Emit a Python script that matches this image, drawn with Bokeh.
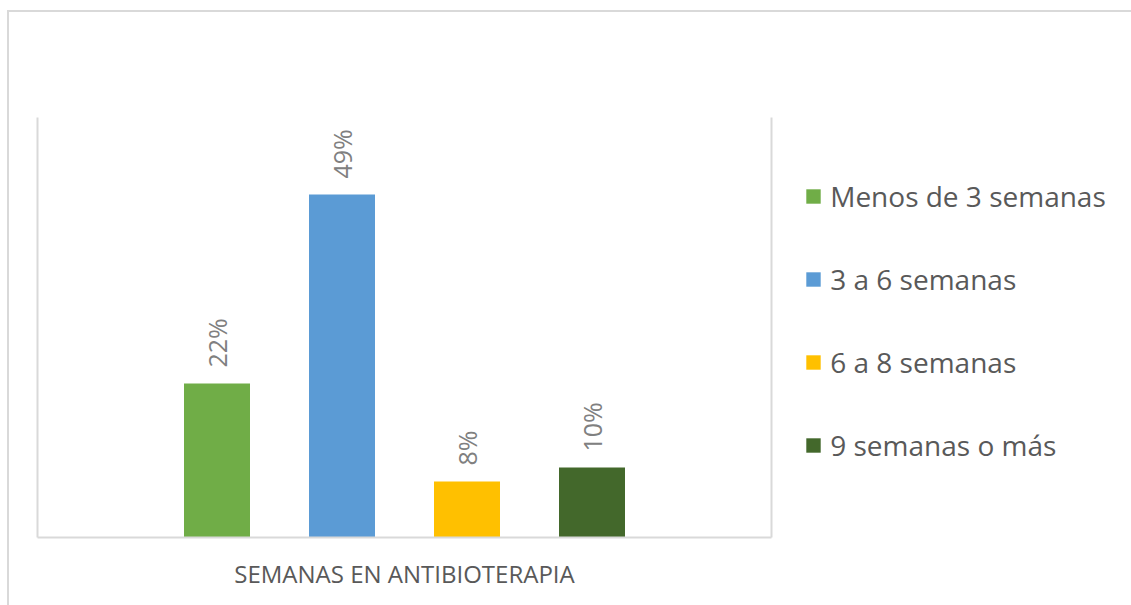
import math
from bokeh.plotting import figure
from bokeh.models import (ColumnDataSource, FactorRange, Range1d, LinearAxis,
                          Legend, LegendItem, FixedTicker)
from bokeh.core.properties import value
from bokeh.embed import file_html
from bokeh.resources import INLINE

# ---- data ----
series = ["Menos de 3 semanas", "3 a 6 semanas", "6 a 8 semanas", "9 semanas o más"]
values = [22, 49, 8, 10]
labels = ["22%", "49%", "8%", "10%"]
colors = ["#70AD47", "#5B9BD5", "#FFC000", "#43682B"]
axis_title = "SEMANAS EN ANTIBIOTERAPIA"

FONT = "Open Sans"
GRID = "#D9D9D9"

src = ColumnDataSource(dict(x=series, top=values, label=labels, color=colors))

p = figure(frame_width=734, frame_height=420, output_backend="svg", toolbar_location=None,
           x_range=FactorRange(factors=series, range_padding=0.468),
           y_range=Range1d(0, 60),
           min_border_left=28, min_border_right=360, min_border_top=105,
           min_border_bottom=68)
p.outline_line_color = None
p.xgrid.visible = False
p.ygrid.visible = False
p.background_fill_color = "white"
p.border_fill_color = "white"
p.styles = {"border-top": "2px solid #D9D9D9", "border-left": "2px solid #D9D9D9",
            "margin-top": "10px", "margin-left": "7px"}

bars = p.vbar(x="x", top="top", width=0.528, color="color", line_color=None, source=src)

p.text(x="x", y="top", text="label", source=src, angle=math.pi / 2,
       text_align="left", text_baseline="middle", y_offset=-16,
       text_font=value(FONT), text_font_size="25px", text_color="#808080")

# axes: only lines visible
for ax in [p.xaxis[0], p.yaxis[0]]:
    ax.ticker = FixedTicker(ticks=[])
    ax.major_tick_line_color = None
    ax.minor_tick_line_color = None
    ax.major_tick_out = 0
    ax.major_tick_in = 0
    ax.major_label_text_font_size = "0px"
    ax.axis_line_color = GRID
    ax.axis_line_width = 2

p.yaxis[0].minor_tick_out = 0
p.yaxis[0].major_label_standoff = 0

right = LinearAxis(ticker=FixedTicker(ticks=[]),
                   major_tick_line_color=None, minor_tick_line_color=None,
                   major_tick_out=0, major_tick_in=0, minor_tick_out=0,
                   major_label_text_font_size="0px", major_label_standoff=0,
                   axis_line_color=GRID, axis_line_width=2)
p.add_layout(right, "right")

xa = p.xaxis[0]
xa.axis_label = axis_title
xa.axis_label_text_font = FONT
xa.axis_label_text_font_size = "24px"
xa.axis_label_text_font_style = "normal"
xa.axis_label_text_color = "#595959"
xa.axis_label_standoff = 19
xa.major_label_standoff = 0

legend = Legend(items=[LegendItem(label=s, renderers=[bars], index=i) for i, s in enumerate(series)],
                location=(-209, 73), orientation="vertical",
                label_text_font=FONT, label_text_font_size="28px",
                label_text_color="#595959",
                glyph_width=18, glyph_height=18, label_standoff=8,
                spacing=45, padding=0, margin=0,
                border_line_color=None, background_fill_alpha=0)
p.add_layout(legend, "right")

open("out.html", "w").write(file_html(p, INLINE))
